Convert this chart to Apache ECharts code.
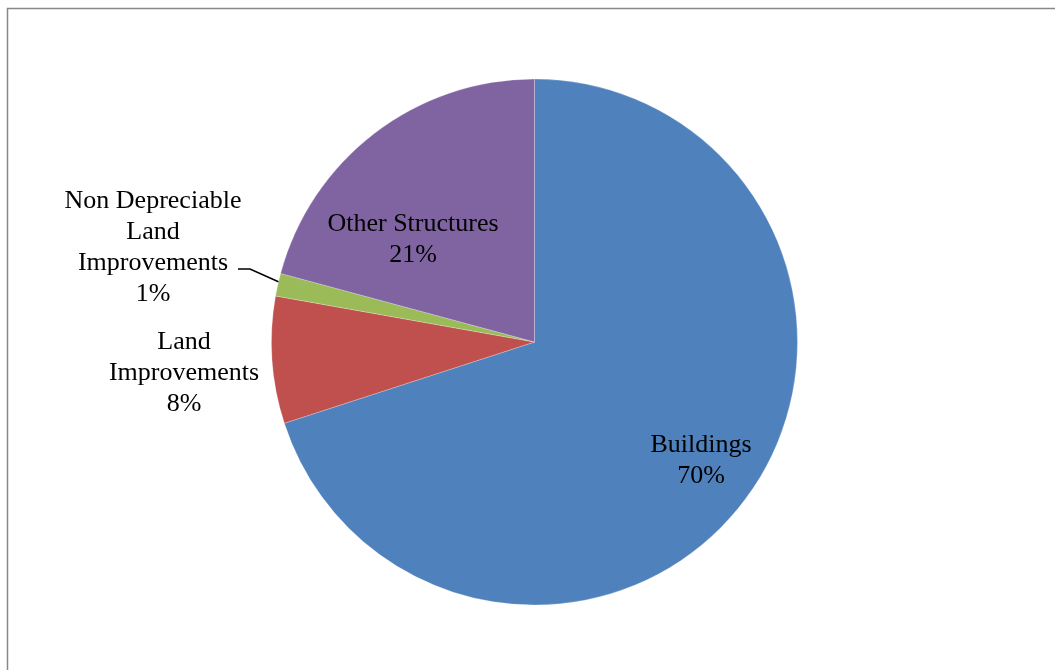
<!DOCTYPE html>
<html>
<head>
<meta charset="utf-8">
<title>Asset Composition</title>
<script src="https://cdn.jsdelivr.net/npm/echarts@6/dist/echarts.min.js"></script>
<style>
  html, body { margin: 0; padding: 0; background: #ffffff; }
  #chart { width: 1055px; height: 670px; }
</style>
</head>
<body>
<div id="chart"></div>
<script>
// Asset categories and their share of the total (percent)
const categories = ['Buildings', 'Land\nImprovements', 'Non Depreciable\nLand\nImprovements', 'Other Structures'];
const shares = [70.0, 7.8, 1.4, 20.8];
const colors = ['#4F81BD', '#C0504D', '#9BBB59', '#8064A2'];

// Where each label block sits (centre of the text block)
const labelSpots = [
  { x: 701, y: 461 },
  { x: 184, y: 373 },
  { x: 153, y: 248 },
  { x: 413, y: 240 }
];
// Leader line for the thin green slice
const leaderLine = [[279, 282], [250, 269], [238, 269]];

const chart = echarts.init(document.getElementById('chart'), null, { renderer: 'canvas' });

const pieData = categories.map((name, i) => ({
  name: name,
  value: shares[i],
  itemStyle: { color: colors[i] },
  label: { position: (i === 0 || i === 3) ? 'inside' : 'outside' },
  labelLine: { show: i === 2 }
}));

chart.setOption({
  animation: false,
  backgroundColor: '#ffffff',
  graphic: [{
    type: 'rect',
    shape: { x: 7.5, y: 8.5, width: 1200, height: 800 },
    style: { fill: 'none', stroke: '#878787', lineWidth: 1.5 },
    silent: true,
    z: -1
  }],
  series: [{
    type: 'pie',
    center: [534.5, 342],
    radius: 263,
    startAngle: 90,
    clockwise: true,
    percentPrecision: 0,
    avoidLabelOverlap: false,
    data: pieData,
    itemStyle: { borderColor: 'rgba(255,255,255,0.4)', borderWidth: 0.6 },
    label: {
      show: true,
      formatter: '{b}\n{d}%',
      fontFamily: '"Liberation Serif", "Times New Roman", serif',
      fontSize: 26,
      lineHeight: 31,
      color: '#000000',
      align: 'center'
    },
    labelLine: {
      lineStyle: { color: '#000000', width: 1.5 },
      length: 10,
      length2: 10
    },
    labelLayout: function (params) {
      const spot = labelSpots[params.dataIndex];
      const out = { x: spot.x, y: spot.y, align: 'center', verticalAlign: 'middle' };
      if (params.dataIndex === 2) {
        out.labelLinePoints = leaderLine;
      }
      return out;
    },
    emphasis: { disabled: true }
  }]
});
</script>
</body>
</html>
